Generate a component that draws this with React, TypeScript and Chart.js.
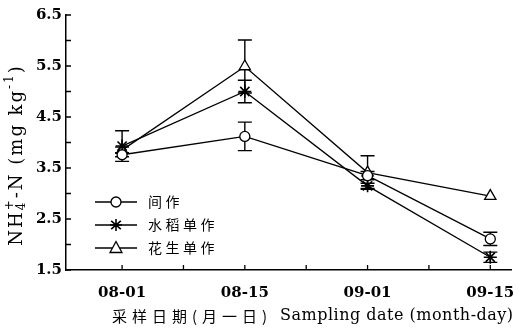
import React, { useEffect, useRef } from 'react';
import { Chart, registerables } from 'chart.js';
Chart.register(...registerables);

const categories = ['08-01', '08-15', '09-01', '09-15'];
const intercrop = [3.76, 4.12, 3.35, 2.11];
const intercropErr = [0.04, 0.28, 0.08, 0.13];
const rice = [3.93, 5.0, 3.15, 1.75];
const riceErr = [0.3, 0.22, 0.05, 0.1];
const peanut = [3.85, 5.49, 3.41, 2.95];
const peanutErr = [0.06, 0.52, 0.33, 0];
const seriesLabels = ['间作', '水稻单作', '花生单作'];
const yMin = 1.5;
const yMax = 6.5;
const yStep = 0.5;
const xTitleCn = '采样日期(月一日)';
const xTitleEn = 'Sampling date (month-day)';

const SERIF = "'DejaVu Serif', serif";
const CJK = "'Noto Sans CJK SC', sans-serif";

function drawMarker(ctx: CanvasRenderingContext2D, style: string, x: number, y: number) {
  ctx.save();
  ctx.strokeStyle = '#000';
  ctx.fillStyle = '#fff';
  ctx.lineWidth = 1.3;
  ctx.beginPath();
  if (style === 'circle') {
    ctx.arc(x, y, 5, 0, Math.PI * 2);
    ctx.fill();
    ctx.stroke();
  } else if (style === 'triangle') {
    ctx.moveTo(x, y - 6.5);
    ctx.lineTo(x + 6, y + 4.5);
    ctx.lineTo(x - 6, y + 4.5);
    ctx.closePath();
    ctx.fill();
    ctx.stroke();
  } else {
    const r = 6;
    ctx.lineWidth = 1.6;
    ctx.moveTo(x, y - r); ctx.lineTo(x, y + r);
    ctx.moveTo(x - r * 0.8, y - r * 0.7); ctx.lineTo(x + r * 0.8, y + r * 0.7);
    ctx.moveTo(x + r * 0.8, y - r * 0.7); ctx.lineTo(x - r * 0.8, y + r * 0.7);
    ctx.moveTo(x - r, y); ctx.lineTo(x + r, y);
    ctx.stroke();
  }
  ctx.restore();
}

const customPlugin = {
  id: 'custom',
  beforeDatasetsDraw(chart: any) {
    const ctx = chart.ctx as CanvasRenderingContext2D;
    const xs = chart.scales.x;
    const ys = chart.scales.y;
    ctx.save();
    ctx.strokeStyle = '#000';
    ctx.lineWidth = 1.4;
    chart.data.datasets.forEach((ds: any) => {
      const errs = ds.errors as number[];
      ds.data.forEach((pt: any, i: number) => {
        const e = errs[i];
        if (!e) return;
        const px = xs.getPixelForValue(pt.x);
        const top = ys.getPixelForValue(pt.y + e);
        const bot = ys.getPixelForValue(pt.y - e);
        ctx.beginPath();
        ctx.moveTo(px, top); ctx.lineTo(px, bot);
        ctx.moveTo(px - 7, top); ctx.lineTo(px + 7, top);
        ctx.moveTo(px - 7, bot); ctx.lineTo(px + 7, bot);
        ctx.stroke();
      });
    });
    ctx.restore();
  },
  afterDraw(chart: any) {
    const ctx = chart.ctx as CanvasRenderingContext2D;
    const xs = chart.scales.x;
    const ys = chart.scales.y;
    const area = chart.chartArea;
    ctx.save();
    ctx.strokeStyle = '#000';
    ctx.lineWidth = 1.3;
    ctx.beginPath();
    ys.ticks.forEach((t: any) => {
      const py = ys.getPixelForValue(t.value);
      ctx.moveTo(area.left, py); ctx.lineTo(area.left + 5, py);
    });
    xs.ticks.forEach((t: any) => {
      const px = xs.getPixelForValue(t.value);
      ctx.moveTo(px, area.bottom); ctx.lineTo(px, area.bottom - 5);
    });
    ctx.stroke();

    // legend
    const styles = ['circle', 'star', 'triangle'];
    const rowsY = [202, 225, 248];
    seriesLabels.forEach((lab, i) => {
      const y = rowsY[i];
      ctx.beginPath();
      ctx.lineWidth = 1.3;
      ctx.moveTo(95, y); ctx.lineTo(137, y);
      ctx.stroke();
      drawMarker(ctx, styles[i], 116, y);
      ctx.fillStyle = '#000';
      ctx.font = `14px ${CJK}`;
      (ctx as any).letterSpacing = '3.5px';
      ctx.textBaseline = 'middle';
      ctx.textAlign = 'left';
      ctx.fillText(lab, 148, y);
      (ctx as any).letterSpacing = '0px';
    });

    // x title
    ctx.fillStyle = '#000';
    ctx.textBaseline = 'middle';
    ctx.textAlign = 'left';
    ctx.font = `15px ${CJK}`;
    (ctx as any).letterSpacing = '5px';
    ctx.fillText(xTitleCn, 112, 316);
    (ctx as any).letterSpacing = '0.5px';
    ctx.font = `16px ${SERIF}`;
    ctx.fillText(xTitleEn, 280, 316);
    (ctx as any).letterSpacing = '0px';

    // y title
    ctx.translate(17, 155);
    ctx.rotate(-Math.PI / 2);
    (ctx as any).letterSpacing = '2px';
    const main = `18px ${SERIF}`;
    const small = `12px ${SERIF}`;
    const parts: { t: string; f: string; dy: number; stack?: boolean }[] = [
      { t: 'NH', f: main, dy: 0 },
      { t: '4', f: small, dy: 5 },
      { t: '+', f: small, dy: -7, stack: true },
      { t: '-N (mg kg', f: main, dy: 0 },
      { t: '-1', f: small, dy: -7 },
      { t: ')', f: main, dy: 0 },
    ];
    let total = 0;
    const widths: number[] = [];
    parts.forEach((p, i) => {
      ctx.font = p.f;
      const w = ctx.measureText(p.t).width;
      widths.push(w);
      if (p.stack) {
        total += Math.max(0, w - widths[i - 1]);
      } else total += w;
    });
    let cx = -total / 2;
    let prevStart = cx;
    parts.forEach((p, i) => {
      ctx.font = p.f;
      if (p.stack) {
        ctx.fillText(p.t, prevStart, p.dy);
        cx = prevStart + Math.max(widths[i], widths[i - 1]);
      } else {
        prevStart = cx;
        ctx.fillText(p.t, cx, p.dy);
        cx += widths[i];
      }
    });
    (ctx as any).letterSpacing = '0px';
    ctx.restore();
  },
};

export default function App() {
  const ref = useRef<HTMLCanvasElement | null>(null);
  useEffect(() => {
    if (!ref.current) return;
    const mk = (vals: number[]) => vals.map((v, i) => ({ x: i, y: v }));
    const base = {
      borderColor: '#000',
      borderWidth: 1.3,
      pointBorderColor: '#000',
      pointBackgroundColor: '#fff',
      pointBorderWidth: 1.3,
      tension: 0,
      fill: false,
    };
    const chart = new Chart(ref.current, {
      type: 'line',
      data: {
        datasets: [
          { ...base, label: seriesLabels[0], data: mk(intercrop), errors: intercropErr, pointStyle: 'circle', pointRadius: 5 } as any,
          { ...base, label: seriesLabels[1], data: mk(rice), errors: riceErr, pointStyle: 'star', pointRadius: 6.5, pointBorderWidth: 1.6 } as any,
          { ...base, label: seriesLabels[2], data: mk(peanut), errors: peanutErr, pointStyle: 'triangle', pointRadius: 6.5 } as any,
        ],
      },
      options: {
        responsive: false,
        animation: false,
        layout: { padding: { top: 15, right: 1, left: 0, bottom: 0 } },
        plugins: { legend: { display: false }, tooltip: { enabled: false } },
        scales: {
          x: {
            type: 'linear',
            min: -0.457,
            max: 3.176,
            afterBuildTicks: (s: any) => {
              s.ticks = [0, 0.5, 1, 1.5, 2, 2.5, 3].map((v) => ({ value: v }));
            },
            afterFit: (s: any) => { s.height = 61; s.paddingLeft = 0; s.paddingRight = 0; },
            grid: { display: true, drawOnChartArea: false, drawTicks: false },
            border: { display: true, color: '#000', width: 1.5 },
            ticks: {
              autoSkip: false,
              maxRotation: 0,
              padding: 14,
              color: '#000',
              font: { family: SERIF, size: 15, weight: 'bold' },
              callback: (v: any) => (Number.isInteger(v) ? categories[v] : ''),
            },
          },
          y: {
            min: yMin,
            max: yMax,
            afterFit: (s: any) => { s.width = 66; s.paddingTop = 0; s.paddingBottom = 0; },
            grid: { display: true, drawOnChartArea: false, drawTicks: false },
            border: { display: true, color: '#000', width: 1.5 },
            ticks: {
              stepSize: yStep,
              padding: 4,
              color: '#000',
              font: { family: SERIF, size: 15, weight: 'bold' },
              callback: (v: any) => (Math.abs(((v - yMin) % 1)) < 1e-6 ? Number(v).toFixed(1) : ''),
            },
          },
        },
      } as any,
      plugins: [customPlugin],
    });
    return () => chart.destroy();
  }, []);
  return (
    <div style={{ position: 'absolute', left: 0, top: 0, width: 520, height: 331, background: '#fff' }}>
      <canvas ref={ref} width={520} height={331} />
    </div>
  );
}
